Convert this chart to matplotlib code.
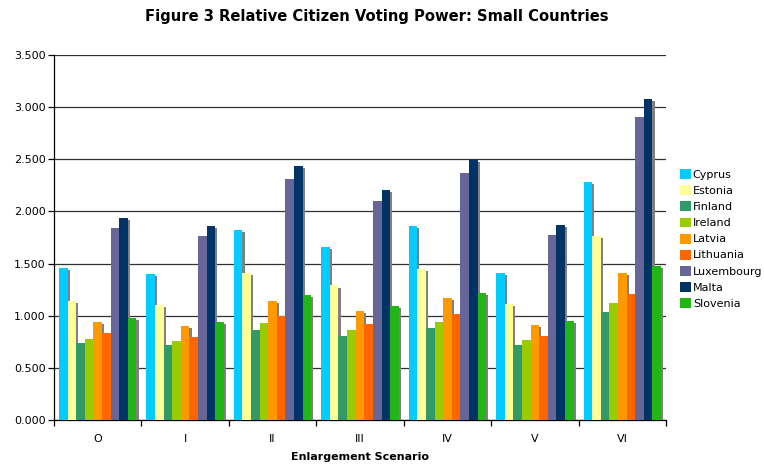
import numpy as np
import matplotlib
matplotlib.use("Agg")
import matplotlib.pyplot as plt
import matplotlib.patheffects as pe
from matplotlib.patches import Patch

scenarios = ["O", "I", "II", "III", "IV", "V", "VI"]
countries = ["Cyprus", "Estonia", "Finland", "Ireland", "Latvia",
             "Lithuania", "Luxembourg", "Malta", "Slovenia"]

cyprus     = [1.46, 1.40, 1.82, 1.656, 1.863, 1.406, 2.285]
estonia    = [1.14, 1.10, 1.41, 1.29, 1.445, 1.109, 1.764]
finland    = [0.738, 0.72, 0.863, 0.805, 0.882, 0.719, 1.035]
ireland    = [0.78, 0.76, 0.93, 0.863, 0.943, 0.764, 1.12]
latvia     = [0.94, 0.90, 1.144, 1.05, 1.167, 0.914, 1.41]
lithuania  = [0.83, 0.80, 1.00, 0.92, 1.013, 0.805, 1.208]
luxembourg = [1.84, 1.76, 2.31, 2.097, 2.365, 1.777, 2.908]
malta      = [1.94, 1.86, 2.435, 2.205, 2.495, 1.87, 3.078]
slovenia   = [0.978, 0.94, 1.198, 1.093, 1.218, 0.946, 1.477]

series = [cyprus, estonia, finland, ireland, latvia,
          lithuania, luxembourg, malta, slovenia]
colors = ["#00CCFF", "#FFFF99", "#339966", "#99CC00", "#FF9900",
          "#FF6600", "#666699", "#003366", "#21B516"]

fig = plt.figure(figsize=(7.64, 4.68), dpi=100)
ax = fig.add_axes([54 / 764, 48 / 468, 612 / 764, 365 / 468])

x = np.arange(len(scenarios))
w = 0.0985
shadow = [pe.SimplePatchShadow(offset=(1.5, -1.5), shadow_rgbFace="#808080", alpha=1.0),
          pe.Normal()]
for i, (vals, col) in enumerate(zip(series, colors)):
    bars = ax.bar(x + (i - 4) * w, vals, width=w, color=col, linewidth=0, zorder=3)
    for b in bars:
        b.set_path_effects(shadow)

ax.set_xlim(-0.5, len(scenarios) - 0.5)
ax.set_ylim(0, 3.5)
ax.set_yticks(np.arange(0, 3.51, 0.5))
ax.set_yticklabels([f"{v:.3f}" for v in np.arange(0, 3.51, 0.5)])
ax.yaxis.grid(True, color="#303030", linewidth=0.9, zorder=0)
ax.set_axisbelow(True)

ax.set_xticks(x)
ax.set_xticklabels(scenarios)
ax.set_xticks(np.arange(-0.5, len(scenarios)), minor=True)
ax.tick_params(axis="x", which="major", length=0, pad=10, labelsize=8)
ax.tick_params(axis="x", which="minor", length=4, width=0.9, direction="out")
ax.tick_params(axis="y", length=4, width=0.9, direction="out", labelsize=8, pad=2)

for s in ["top", "right"]:
    ax.spines[s].set_visible(False)
for s in ["left", "bottom"]:
    ax.spines[s].set_color("black")
    ax.spines[s].set_linewidth(0.9)

ax.set_xlabel("Enlargement Scenario", fontsize=8, fontweight="bold", labelpad=6)
fig.text(377 / 764, 1 - 17 / 468,
         "Figure 3 Relative Citizen Voting Power: Small Countries",
         ha="center", va="center", fontsize=10.6, fontweight="bold")

handles = [Patch(facecolor=c, edgecolor="none") for c in colors]
fig.legend(handles, countries, loc="center left",
           bbox_to_anchor=(680 / 764, 1 - 239 / 468), frameon=False,
           fontsize=8, handlelength=1.0, handleheight=1.0, handletextpad=0.15,
           labelspacing=0.48, borderpad=0, borderaxespad=0)

fig.savefig("out.png", dpi=100)
